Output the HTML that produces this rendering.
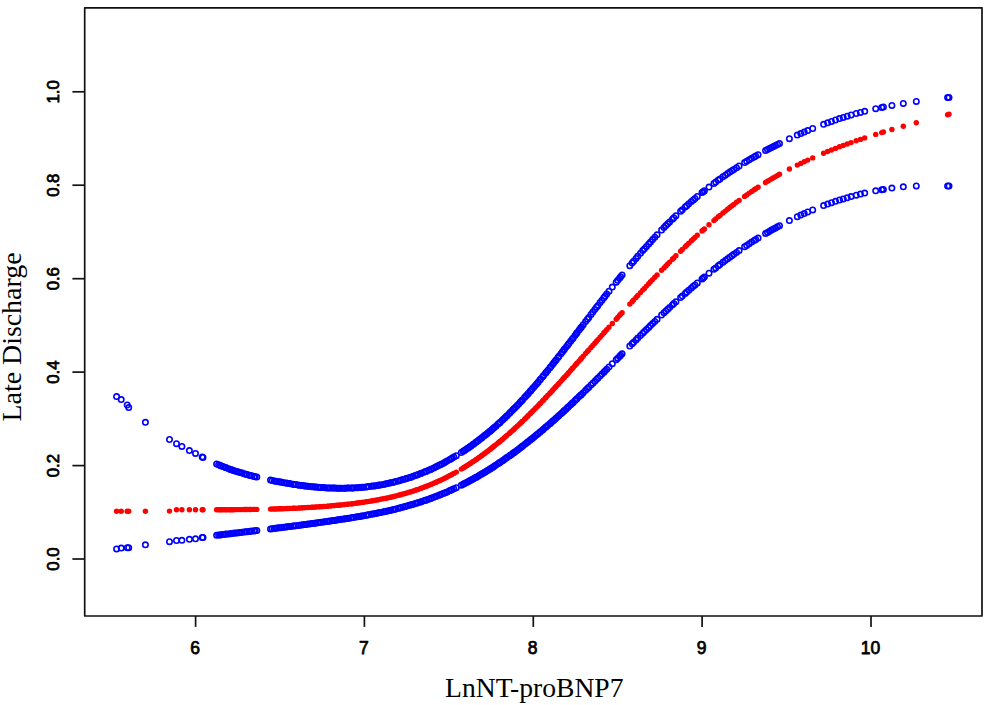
<!DOCTYPE html>
<html><head><meta charset="utf-8"><style>
html,body{margin:0;padding:0;background:#fff;width:992px;height:705px;overflow:hidden}
svg{display:block}
</style></head><body>
<svg width="992" height="705" viewBox="0 0 992 705">
<rect x="0" y="0" width="992" height="705" fill="#fff"/>
<g fill="none" stroke="#0000ff" stroke-width="1.6"><circle cx="116.6" cy="396.6" r="2.7"/><circle cx="116.6" cy="548.9" r="2.7"/><circle cx="121.2" cy="399.6" r="2.7"/><circle cx="121.2" cy="548.1" r="2.7"/><circle cx="127.2" cy="405.0" r="2.7"/><circle cx="127.2" cy="547.7" r="2.7"/><circle cx="128.7" cy="407.6" r="2.7"/><circle cx="128.7" cy="547.7" r="2.7"/><circle cx="145.4" cy="422.3" r="2.7"/><circle cx="145.4" cy="544.8" r="2.7"/><circle cx="169.5" cy="439.5" r="2.7"/><circle cx="169.5" cy="541.7" r="2.7"/><circle cx="176.5" cy="443.7" r="2.7"/><circle cx="176.5" cy="540.5" r="2.7"/><circle cx="181.9" cy="446.4" r="2.7"/><circle cx="181.9" cy="540.3" r="2.7"/><circle cx="189.4" cy="450.6" r="2.7"/><circle cx="189.4" cy="539.3" r="2.7"/><circle cx="195.5" cy="453.4" r="2.7"/><circle cx="195.5" cy="538.8" r="2.7"/><circle cx="202.2" cy="456.9" r="2.7"/><circle cx="202.2" cy="537.5" r="2.7"/><circle cx="203.0" cy="457.4" r="2.7"/><circle cx="203.0" cy="537.5" r="2.7"/><circle cx="216.6" cy="464.0" r="2.7"/><circle cx="218.6" cy="464.8" r="2.7"/><circle cx="220.2" cy="465.4" r="2.7"/><circle cx="221.3" cy="465.9" r="2.7"/><circle cx="223.1" cy="466.6" r="2.7"/><circle cx="225.4" cy="467.5" r="2.7"/><circle cx="226.2" cy="467.8" r="2.7"/><circle cx="228.7" cy="468.8" r="2.7"/><circle cx="230.4" cy="469.4" r="2.7"/><circle cx="231.8" cy="469.8" r="2.7"/><circle cx="233.3" cy="470.4" r="2.7"/><circle cx="235.0" cy="470.9" r="2.7"/><circle cx="236.7" cy="471.5" r="2.7"/><circle cx="238.5" cy="472.1" r="2.7"/><circle cx="240.3" cy="472.6" r="2.7"/><circle cx="242.1" cy="473.1" r="2.7"/><circle cx="244.2" cy="473.7" r="2.7"/><circle cx="245.7" cy="474.2" r="2.7"/><circle cx="247.2" cy="474.6" r="2.7"/><circle cx="249.3" cy="475.2" r="2.7"/><circle cx="250.2" cy="475.4" r="2.7"/><circle cx="251.9" cy="475.8" r="2.7"/><circle cx="254.0" cy="476.4" r="2.7"/><circle cx="255.1" cy="476.7" r="2.7"/><circle cx="256.8" cy="477.1" r="2.7"/><circle cx="270.5" cy="480.1" r="2.7"/><circle cx="272.2" cy="480.5" r="2.7"/><circle cx="274.3" cy="480.9" r="2.7"/><circle cx="275.7" cy="481.2" r="2.7"/><circle cx="277.3" cy="481.5" r="2.7"/><circle cx="279.0" cy="481.8" r="2.7"/><circle cx="280.4" cy="482.1" r="2.7"/><circle cx="281.9" cy="482.3" r="2.7"/><circle cx="283.8" cy="482.7" r="2.7"/><circle cx="286.0" cy="483.1" r="2.7"/><circle cx="287.2" cy="483.3" r="2.7"/><circle cx="289.1" cy="483.6" r="2.7"/><circle cx="290.4" cy="483.8" r="2.7"/><circle cx="292.9" cy="484.2" r="2.7"/><circle cx="294.0" cy="484.4" r="2.7"/><circle cx="295.8" cy="484.6" r="2.7"/><circle cx="298.1" cy="485.0" r="2.7"/><circle cx="299.4" cy="485.2" r="2.7"/><circle cx="301.4" cy="485.4" r="2.7"/><circle cx="302.9" cy="485.6" r="2.7"/><circle cx="304.7" cy="485.9" r="2.7"/><circle cx="305.8" cy="486.0" r="2.7"/><circle cx="307.9" cy="486.2" r="2.7"/><circle cx="309.6" cy="486.4" r="2.7"/><circle cx="311.7" cy="486.7" r="2.7"/><circle cx="312.9" cy="486.8" r="2.7"/><circle cx="314.8" cy="487.0" r="2.7"/><circle cx="316.0" cy="487.1" r="2.7"/><circle cx="318.0" cy="487.2" r="2.7"/><circle cx="319.6" cy="487.4" r="2.7"/><circle cx="321.2" cy="487.5" r="2.7"/><circle cx="323.5" cy="487.6" r="2.7"/><circle cx="324.8" cy="487.7" r="2.7"/><circle cx="327.1" cy="487.9" r="2.7"/><circle cx="328.4" cy="487.9" r="2.7"/><circle cx="330.1" cy="488.0" r="2.7"/><circle cx="331.8" cy="488.1" r="2.7"/><circle cx="333.6" cy="488.1" r="2.7"/><circle cx="334.8" cy="488.1" r="2.7"/><circle cx="336.7" cy="488.2" r="2.7"/><circle cx="338.2" cy="488.2" r="2.7"/><circle cx="340.1" cy="488.2" r="2.7"/><circle cx="341.5" cy="488.2" r="2.7"/><circle cx="344.1" cy="488.2" r="2.7"/><circle cx="345.0" cy="488.2" r="2.7"/><circle cx="347.2" cy="488.1" r="2.7"/><circle cx="348.5" cy="488.1" r="2.7"/><circle cx="350.8" cy="488.0" r="2.7"/><circle cx="352.3" cy="488.0" r="2.7"/><circle cx="353.4" cy="487.9" r="2.7"/><circle cx="355.8" cy="487.8" r="2.7"/><circle cx="357.6" cy="487.7" r="2.7"/><circle cx="359.3" cy="487.5" r="2.7"/><circle cx="360.7" cy="487.4" r="2.7"/><circle cx="361.9" cy="487.3" r="2.7"/><circle cx="363.7" cy="487.2" r="2.7"/><circle cx="366.1" cy="486.9" r="2.7"/><circle cx="367.5" cy="486.8" r="2.7"/><circle cx="368.8" cy="486.6" r="2.7"/><circle cx="371.2" cy="486.3" r="2.7"/><circle cx="372.6" cy="486.1" r="2.7"/><circle cx="374.3" cy="485.9" r="2.7"/><circle cx="375.8" cy="485.7" r="2.7"/><circle cx="377.5" cy="485.4" r="2.7"/><circle cx="379.0" cy="485.1" r="2.7"/><circle cx="380.5" cy="484.9" r="2.7"/><circle cx="383.1" cy="484.4" r="2.7"/><circle cx="384.4" cy="484.2" r="2.7"/><circle cx="386.1" cy="483.8" r="2.7"/><circle cx="387.6" cy="483.5" r="2.7"/><circle cx="389.8" cy="483.1" r="2.7"/><circle cx="390.7" cy="482.8" r="2.7"/><circle cx="392.8" cy="482.4" r="2.7"/><circle cx="394.1" cy="482.0" r="2.7"/><circle cx="395.9" cy="481.6" r="2.7"/><circle cx="398.5" cy="480.9" r="2.7"/><circle cx="399.9" cy="480.5" r="2.7"/><circle cx="401.3" cy="480.1" r="2.7"/><circle cx="403.1" cy="479.6" r="2.7"/><circle cx="405.2" cy="479.0" r="2.7"/><circle cx="406.3" cy="478.6" r="2.7"/><circle cx="408.3" cy="478.0" r="2.7"/><circle cx="410.1" cy="477.4" r="2.7"/><circle cx="411.5" cy="477.0" r="2.7"/><circle cx="413.3" cy="476.3" r="2.7"/><circle cx="415.3" cy="475.6" r="2.7"/><circle cx="417.1" cy="474.9" r="2.7"/><circle cx="418.1" cy="474.6" r="2.7"/><circle cx="420.5" cy="473.6" r="2.7"/><circle cx="421.3" cy="473.3" r="2.7"/><circle cx="423.8" cy="472.3" r="2.7"/><circle cx="425.5" cy="471.6" r="2.7"/><circle cx="426.5" cy="471.2" r="2.7"/><circle cx="428.5" cy="470.3" r="2.7"/><circle cx="430.6" cy="469.4" r="2.7"/><circle cx="431.5" cy="469.0" r="2.7"/><circle cx="433.8" cy="467.9" r="2.7"/><circle cx="435.7" cy="467.0" r="2.7"/><circle cx="437.1" cy="466.3" r="2.7"/><circle cx="439.0" cy="465.3" r="2.7"/><circle cx="440.2" cy="464.7" r="2.7"/><circle cx="441.9" cy="463.9" r="2.7"/><circle cx="443.8" cy="462.9" r="2.7"/><circle cx="445.3" cy="462.1" r="2.7"/><circle cx="447.1" cy="461.0" r="2.7"/><circle cx="449.4" cy="459.7" r="2.7"/><circle cx="450.8" cy="459.0" r="2.7"/><circle cx="452.2" cy="458.1" r="2.7"/><circle cx="453.9" cy="457.1" r="2.7"/><circle cx="456.3" cy="455.7" r="2.7"/><circle cx="461.3" cy="452.5" r="2.7"/><circle cx="463.1" cy="451.3" r="2.7"/><circle cx="464.1" cy="450.7" r="2.7"/><circle cx="465.5" cy="449.7" r="2.7"/><circle cx="467.2" cy="448.6" r="2.7"/><circle cx="468.5" cy="447.7" r="2.7"/><circle cx="469.8" cy="446.8" r="2.7"/><circle cx="471.0" cy="445.9" r="2.7"/><circle cx="472.8" cy="444.6" r="2.7"/><circle cx="473.8" cy="443.9" r="2.7"/><circle cx="475.6" cy="442.5" r="2.7"/><circle cx="476.4" cy="442.0" r="2.7"/><circle cx="478.0" cy="440.7" r="2.7"/><circle cx="479.5" cy="439.6" r="2.7"/><circle cx="481.3" cy="438.2" r="2.7"/><circle cx="482.1" cy="437.6" r="2.7"/><circle cx="483.9" cy="436.1" r="2.7"/><circle cx="485.2" cy="435.1" r="2.7"/><circle cx="486.7" cy="433.9" r="2.7"/><circle cx="488.0" cy="432.8" r="2.7"/><circle cx="489.7" cy="431.4" r="2.7"/><circle cx="490.6" cy="430.7" r="2.7"/><circle cx="492.0" cy="429.4" r="2.7"/><circle cx="493.3" cy="428.3" r="2.7"/><circle cx="494.5" cy="427.2" r="2.7"/><circle cx="496.1" cy="425.9" r="2.7"/><circle cx="498.0" cy="424.1" r="2.7"/><circle cx="499.4" cy="422.9" r="2.7"/><circle cx="500.2" cy="422.2" r="2.7"/><circle cx="502.0" cy="420.5" r="2.7"/><circle cx="503.3" cy="419.3" r="2.7"/><circle cx="504.8" cy="417.9" r="2.7"/><circle cx="506.2" cy="416.5" r="2.7"/><circle cx="507.3" cy="415.4" r="2.7"/><circle cx="509.3" cy="413.5" r="2.7"/><circle cx="510.3" cy="412.5" r="2.7"/><circle cx="511.8" cy="411.0" r="2.7"/><circle cx="513.2" cy="409.6" r="2.7"/><circle cx="514.2" cy="408.5" r="2.7"/><circle cx="515.5" cy="407.2" r="2.7"/><circle cx="517.2" cy="405.4" r="2.7"/><circle cx="518.9" cy="403.7" r="2.7"/><circle cx="520.4" cy="402.1" r="2.7"/><circle cx="521.7" cy="400.7" r="2.7"/><circle cx="522.6" cy="399.7" r="2.7"/><circle cx="524.6" cy="397.5" r="2.7"/><circle cx="525.9" cy="396.1" r="2.7"/><circle cx="527.4" cy="394.4" r="2.7"/><circle cx="528.5" cy="393.2" r="2.7"/><circle cx="530.2" cy="391.2" r="2.7"/><circle cx="530.9" cy="390.4" r="2.7"/><circle cx="532.3" cy="388.8" r="2.7"/><circle cx="533.7" cy="387.2" r="2.7"/><circle cx="535.3" cy="385.4" r="2.7"/><circle cx="536.7" cy="383.7" r="2.7"/><circle cx="538.1" cy="382.2" r="2.7"/><circle cx="539.8" cy="380.1" r="2.7"/><circle cx="540.7" cy="379.0" r="2.7"/><circle cx="542.6" cy="376.7" r="2.7"/><circle cx="543.6" cy="375.4" r="2.7"/><circle cx="545.4" cy="373.2" r="2.7"/><circle cx="546.3" cy="372.2" r="2.7"/><circle cx="547.9" cy="370.2" r="2.7"/><circle cx="549.9" cy="367.8" r="2.7"/><circle cx="550.9" cy="366.5" r="2.7"/><circle cx="552.5" cy="364.4" r="2.7"/><circle cx="553.8" cy="362.8" r="2.7"/><circle cx="555.2" cy="361.1" r="2.7"/><circle cx="556.3" cy="359.8" r="2.7"/><circle cx="558.0" cy="357.6" r="2.7"/><circle cx="558.9" cy="356.3" r="2.7"/><circle cx="560.9" cy="353.8" r="2.7"/><circle cx="562.5" cy="351.8" r="2.7"/><circle cx="563.8" cy="350.1" r="2.7"/><circle cx="564.5" cy="349.1" r="2.7"/><circle cx="566.2" cy="347.0" r="2.7"/><circle cx="567.6" cy="345.2" r="2.7"/><circle cx="568.8" cy="343.6" r="2.7"/><circle cx="570.6" cy="341.2" r="2.7"/><circle cx="572.1" cy="339.2" r="2.7"/><circle cx="573.2" cy="337.9" r="2.7"/><circle cx="575.0" cy="335.5" r="2.7"/><circle cx="576.3" cy="333.7" r="2.7"/><circle cx="577.2" cy="332.6" r="2.7"/><circle cx="579.1" cy="330.1" r="2.7"/><circle cx="580.6" cy="328.1" r="2.7"/><circle cx="581.5" cy="327.0" r="2.7"/><circle cx="583.2" cy="324.7" r="2.7"/><circle cx="585.6" cy="321.5" r="2.7"/><circle cx="587.4" cy="319.2" r="2.7"/><circle cx="588.8" cy="317.4" r="2.7"/><circle cx="591.0" cy="314.4" r="2.7"/><circle cx="592.8" cy="312.1" r="2.7"/><circle cx="594.8" cy="309.5" r="2.7"/><circle cx="596.5" cy="307.2" r="2.7"/><circle cx="598.0" cy="305.4" r="2.7"/><circle cx="600.1" cy="302.6" r="2.7"/><circle cx="602.0" cy="300.2" r="2.7"/><circle cx="603.8" cy="297.8" r="2.7"/><circle cx="605.0" cy="296.3" r="2.7"/><circle cx="606.7" cy="294.1" r="2.7"/><circle cx="609.0" cy="291.2" r="2.7"/><circle cx="612.3" cy="287.1" r="2.7"/><circle cx="616.2" cy="282.2" r="2.7"/><circle cx="617.7" cy="280.3" r="2.7"/><circle cx="619.5" cy="278.2" r="2.7"/><circle cx="620.6" cy="276.7" r="2.7"/><circle cx="622.1" cy="275.0" r="2.7"/><circle cx="629.8" cy="265.7" r="2.7"/><circle cx="632.1" cy="263.0" r="2.7"/><circle cx="633.6" cy="261.2" r="2.7"/><circle cx="636.0" cy="258.4" r="2.7"/><circle cx="637.8" cy="256.2" r="2.7"/><circle cx="640.5" cy="253.2" r="2.7"/><circle cx="642.7" cy="250.6" r="2.7"/><circle cx="644.4" cy="248.8" r="2.7"/><circle cx="646.5" cy="246.4" r="2.7"/><circle cx="648.7" cy="243.9" r="2.7"/><circle cx="650.5" cy="241.9" r="2.7"/><circle cx="652.6" cy="239.6" r="2.7"/><circle cx="654.8" cy="237.2" r="2.7"/><circle cx="657.1" cy="234.8" r="2.7"/><circle cx="661.6" cy="230.1" r="2.7"/><circle cx="664.0" cy="227.6" r="2.7"/><circle cx="665.9" cy="225.6" r="2.7"/><circle cx="667.7" cy="223.8" r="2.7"/><circle cx="669.6" cy="221.9" r="2.7"/><circle cx="672.4" cy="219.2" r="2.7"/><circle cx="673.8" cy="217.7" r="2.7"/><circle cx="675.9" cy="215.7" r="2.7"/><circle cx="680.6" cy="211.3" r="2.7"/><circle cx="682.3" cy="209.7" r="2.7"/><circle cx="685.2" cy="207.0" r="2.7"/><circle cx="686.7" cy="205.7" r="2.7"/><circle cx="688.8" cy="203.8" r="2.7"/><circle cx="691.4" cy="201.5" r="2.7"/><circle cx="693.3" cy="199.9" r="2.7"/><circle cx="695.0" cy="198.5" r="2.7"/><circle cx="697.3" cy="196.5" r="2.7"/><circle cx="702.0" cy="192.6" r="2.7"/><circle cx="703.2" cy="191.7" r="2.7"/><circle cx="704.4" cy="190.7" r="2.7"/><circle cx="709.0" cy="187.1" r="2.7"/><circle cx="713.9" cy="183.4" r="2.7"/><circle cx="715.7" cy="182.1" r="2.7"/><circle cx="718.3" cy="180.1" r="2.7"/><circle cx="720.0" cy="178.9" r="2.7"/><circle cx="722.9" cy="176.8" r="2.7"/><circle cx="725.3" cy="175.2" r="2.7"/><circle cx="727.6" cy="173.6" r="2.7"/><circle cx="729.8" cy="172.1" r="2.7"/><circle cx="731.8" cy="170.8" r="2.7"/><circle cx="733.8" cy="169.5" r="2.7"/><circle cx="736.5" cy="167.7" r="2.7"/><circle cx="739.1" cy="166.0" r="2.7"/><circle cx="744.6" cy="162.6" r="2.7"/><circle cx="746.7" cy="161.3" r="2.7"/><circle cx="749.2" cy="159.8" r="2.7"/><circle cx="751.7" cy="158.3" r="2.7"/><circle cx="754.2" cy="156.9" r="2.7"/><circle cx="755.7" cy="156.0" r="2.7"/><circle cx="758.1" cy="154.7" r="2.7"/><circle cx="765.5" cy="150.6" r="2.7"/><circle cx="767.5" cy="149.6" r="2.7"/><circle cx="769.5" cy="148.5" r="2.7"/><circle cx="771.5" cy="147.5" r="2.7"/><circle cx="773.5" cy="146.5" r="2.7"/><circle cx="775.5" cy="145.5" r="2.7"/><circle cx="777.5" cy="144.4" r="2.7"/><circle cx="779.5" cy="143.5" r="2.7"/><circle cx="789.4" cy="138.7" r="2.7"/><circle cx="797.3" cy="135.1" r="2.7"/><circle cx="800.8" cy="133.6" r="2.7"/><circle cx="804.2" cy="132.1" r="2.7"/><circle cx="807.7" cy="130.6" r="2.7"/><circle cx="812.7" cy="128.5" r="2.7"/><circle cx="823.6" cy="124.3" r="2.7"/><circle cx="827.6" cy="122.8" r="2.7"/><circle cx="831.5" cy="121.4" r="2.7"/><circle cx="835.5" cy="120.0" r="2.7"/><circle cx="839.5" cy="118.6" r="2.7"/><circle cx="843.2" cy="117.4" r="2.7"/><circle cx="847.2" cy="116.2" r="2.7"/><circle cx="851.1" cy="115.0" r="2.7"/><circle cx="856.2" cy="113.5" r="2.7"/><circle cx="860.4" cy="112.4" r="2.7"/><circle cx="864.7" cy="111.3" r="2.7"/><circle cx="875.7" cy="108.7" r="2.7"/><circle cx="881.7" cy="107.4" r="2.7"/><circle cx="883.4" cy="107.0" r="2.7"/><circle cx="891.9" cy="105.4" r="2.7"/><circle cx="903.3" cy="103.4" r="2.7"/><circle cx="916.3" cy="101.4" r="2.7"/><circle cx="947.6" cy="97.6" r="2.7"/><circle cx="949.0" cy="97.4" r="2.7"/><circle cx="216.6" cy="535.3" r="2.7"/><circle cx="218.6" cy="535.1" r="2.7"/><circle cx="220.2" cy="534.9" r="2.7"/><circle cx="221.3" cy="534.7" r="2.7"/><circle cx="223.1" cy="534.5" r="2.7"/><circle cx="225.4" cy="534.2" r="2.7"/><circle cx="226.2" cy="534.1" r="2.7"/><circle cx="228.7" cy="533.9" r="2.7"/><circle cx="230.4" cy="533.7" r="2.7"/><circle cx="231.8" cy="533.5" r="2.7"/><circle cx="233.3" cy="533.3" r="2.7"/><circle cx="235.0" cy="533.1" r="2.7"/><circle cx="236.7" cy="532.9" r="2.7"/><circle cx="238.5" cy="532.7" r="2.7"/><circle cx="240.3" cy="532.5" r="2.7"/><circle cx="242.1" cy="532.3" r="2.7"/><circle cx="244.2" cy="532.0" r="2.7"/><circle cx="245.7" cy="531.8" r="2.7"/><circle cx="247.2" cy="531.7" r="2.7"/><circle cx="249.3" cy="531.4" r="2.7"/><circle cx="250.2" cy="531.3" r="2.7"/><circle cx="251.9" cy="531.1" r="2.7"/><circle cx="254.0" cy="530.9" r="2.7"/><circle cx="255.1" cy="530.7" r="2.7"/><circle cx="256.8" cy="530.5" r="2.7"/><circle cx="270.5" cy="528.9" r="2.7"/><circle cx="272.2" cy="528.7" r="2.7"/><circle cx="274.3" cy="528.4" r="2.7"/><circle cx="275.7" cy="528.2" r="2.7"/><circle cx="277.3" cy="528.0" r="2.7"/><circle cx="279.0" cy="527.8" r="2.7"/><circle cx="280.4" cy="527.7" r="2.7"/><circle cx="281.9" cy="527.5" r="2.7"/><circle cx="283.8" cy="527.2" r="2.7"/><circle cx="286.0" cy="527.0" r="2.7"/><circle cx="287.2" cy="526.8" r="2.7"/><circle cx="289.1" cy="526.6" r="2.7"/><circle cx="290.4" cy="526.4" r="2.7"/><circle cx="292.9" cy="526.1" r="2.7"/><circle cx="294.0" cy="526.0" r="2.7"/><circle cx="295.8" cy="525.7" r="2.7"/><circle cx="298.1" cy="525.4" r="2.7"/><circle cx="299.4" cy="525.3" r="2.7"/><circle cx="301.4" cy="525.0" r="2.7"/><circle cx="302.9" cy="524.8" r="2.7"/><circle cx="304.7" cy="524.6" r="2.7"/><circle cx="305.8" cy="524.4" r="2.7"/><circle cx="307.9" cy="524.1" r="2.7"/><circle cx="309.6" cy="523.9" r="2.7"/><circle cx="311.7" cy="523.6" r="2.7"/><circle cx="312.9" cy="523.5" r="2.7"/><circle cx="314.8" cy="523.2" r="2.7"/><circle cx="316.0" cy="523.0" r="2.7"/><circle cx="318.0" cy="522.8" r="2.7"/><circle cx="319.6" cy="522.5" r="2.7"/><circle cx="321.2" cy="522.3" r="2.7"/><circle cx="323.5" cy="522.0" r="2.7"/><circle cx="324.8" cy="521.8" r="2.7"/><circle cx="327.1" cy="521.5" r="2.7"/><circle cx="328.4" cy="521.3" r="2.7"/><circle cx="330.1" cy="521.0" r="2.7"/><circle cx="331.8" cy="520.8" r="2.7"/><circle cx="333.6" cy="520.5" r="2.7"/><circle cx="334.8" cy="520.4" r="2.7"/><circle cx="336.7" cy="520.1" r="2.7"/><circle cx="338.2" cy="519.8" r="2.7"/><circle cx="340.1" cy="519.6" r="2.7"/><circle cx="341.5" cy="519.3" r="2.7"/><circle cx="344.1" cy="518.9" r="2.7"/><circle cx="345.0" cy="518.8" r="2.7"/><circle cx="347.2" cy="518.5" r="2.7"/><circle cx="348.5" cy="518.3" r="2.7"/><circle cx="350.8" cy="517.9" r="2.7"/><circle cx="352.3" cy="517.6" r="2.7"/><circle cx="353.4" cy="517.5" r="2.7"/><circle cx="355.8" cy="517.1" r="2.7"/><circle cx="357.6" cy="516.7" r="2.7"/><circle cx="359.3" cy="516.5" r="2.7"/><circle cx="360.7" cy="516.2" r="2.7"/><circle cx="361.9" cy="516.0" r="2.7"/><circle cx="363.7" cy="515.7" r="2.7"/><circle cx="366.1" cy="515.3" r="2.7"/><circle cx="367.5" cy="515.0" r="2.7"/><circle cx="368.8" cy="514.8" r="2.7"/><circle cx="371.2" cy="514.3" r="2.7"/><circle cx="372.6" cy="514.0" r="2.7"/><circle cx="374.3" cy="513.7" r="2.7"/><circle cx="375.8" cy="513.4" r="2.7"/><circle cx="377.5" cy="513.1" r="2.7"/><circle cx="379.0" cy="512.7" r="2.7"/><circle cx="380.5" cy="512.4" r="2.7"/><circle cx="383.1" cy="511.9" r="2.7"/><circle cx="384.4" cy="511.6" r="2.7"/><circle cx="386.1" cy="511.2" r="2.7"/><circle cx="387.6" cy="510.9" r="2.7"/><circle cx="389.8" cy="510.4" r="2.7"/><circle cx="390.7" cy="510.2" r="2.7"/><circle cx="392.8" cy="509.7" r="2.7"/><circle cx="394.1" cy="509.4" r="2.7"/><circle cx="395.9" cy="508.9" r="2.7"/><circle cx="398.5" cy="508.3" r="2.7"/><circle cx="399.9" cy="507.9" r="2.7"/><circle cx="401.3" cy="507.5" r="2.7"/><circle cx="403.1" cy="507.1" r="2.7"/><circle cx="405.2" cy="506.5" r="2.7"/><circle cx="406.3" cy="506.2" r="2.7"/><circle cx="408.3" cy="505.6" r="2.7"/><circle cx="410.1" cy="505.1" r="2.7"/><circle cx="411.5" cy="504.7" r="2.7"/><circle cx="413.3" cy="504.2" r="2.7"/><circle cx="415.3" cy="503.6" r="2.7"/><circle cx="417.1" cy="503.0" r="2.7"/><circle cx="418.1" cy="502.7" r="2.7"/><circle cx="420.5" cy="501.9" r="2.7"/><circle cx="421.3" cy="501.7" r="2.7"/><circle cx="423.8" cy="500.8" r="2.7"/><circle cx="425.5" cy="500.2" r="2.7"/><circle cx="426.5" cy="499.9" r="2.7"/><circle cx="428.5" cy="499.2" r="2.7"/><circle cx="430.6" cy="498.4" r="2.7"/><circle cx="431.5" cy="498.1" r="2.7"/><circle cx="433.8" cy="497.3" r="2.7"/><circle cx="435.7" cy="496.5" r="2.7"/><circle cx="437.1" cy="496.0" r="2.7"/><circle cx="439.0" cy="495.2" r="2.7"/><circle cx="440.2" cy="494.8" r="2.7"/><circle cx="441.9" cy="494.1" r="2.7"/><circle cx="443.8" cy="493.3" r="2.7"/><circle cx="445.3" cy="492.7" r="2.7"/><circle cx="447.1" cy="491.9" r="2.7"/><circle cx="449.4" cy="490.8" r="2.7"/><circle cx="450.8" cy="490.3" r="2.7"/><circle cx="452.2" cy="489.6" r="2.7"/><circle cx="453.9" cy="488.8" r="2.7"/><circle cx="456.3" cy="487.7" r="2.7"/><circle cx="461.3" cy="485.2" r="2.7"/><circle cx="463.1" cy="484.3" r="2.7"/><circle cx="464.1" cy="483.8" r="2.7"/><circle cx="465.5" cy="483.1" r="2.7"/><circle cx="467.2" cy="482.2" r="2.7"/><circle cx="468.5" cy="481.5" r="2.7"/><circle cx="469.8" cy="480.8" r="2.7"/><circle cx="471.0" cy="480.1" r="2.7"/><circle cx="472.8" cy="479.2" r="2.7"/><circle cx="473.8" cy="478.6" r="2.7"/><circle cx="475.6" cy="477.6" r="2.7"/><circle cx="476.4" cy="477.2" r="2.7"/><circle cx="478.0" cy="476.2" r="2.7"/><circle cx="479.5" cy="475.3" r="2.7"/><circle cx="481.3" cy="474.3" r="2.7"/><circle cx="482.1" cy="473.8" r="2.7"/><circle cx="483.9" cy="472.7" r="2.7"/><circle cx="485.2" cy="471.9" r="2.7"/><circle cx="486.7" cy="471.0" r="2.7"/><circle cx="488.0" cy="470.2" r="2.7"/><circle cx="489.7" cy="469.2" r="2.7"/><circle cx="490.6" cy="468.6" r="2.7"/><circle cx="492.0" cy="467.7" r="2.7"/><circle cx="493.3" cy="466.9" r="2.7"/><circle cx="494.5" cy="466.0" r="2.7"/><circle cx="496.1" cy="465.0" r="2.7"/><circle cx="498.0" cy="463.7" r="2.7"/><circle cx="499.4" cy="462.8" r="2.7"/><circle cx="500.2" cy="462.3" r="2.7"/><circle cx="502.0" cy="461.1" r="2.7"/><circle cx="503.3" cy="460.2" r="2.7"/><circle cx="504.8" cy="459.1" r="2.7"/><circle cx="506.2" cy="458.1" r="2.7"/><circle cx="507.3" cy="457.3" r="2.7"/><circle cx="509.3" cy="456.0" r="2.7"/><circle cx="510.3" cy="455.3" r="2.7"/><circle cx="511.8" cy="454.2" r="2.7"/><circle cx="513.2" cy="453.1" r="2.7"/><circle cx="514.2" cy="452.4" r="2.7"/><circle cx="515.5" cy="451.4" r="2.7"/><circle cx="517.2" cy="450.2" r="2.7"/><circle cx="518.9" cy="448.9" r="2.7"/><circle cx="520.4" cy="447.8" r="2.7"/><circle cx="521.7" cy="446.8" r="2.7"/><circle cx="522.6" cy="446.1" r="2.7"/><circle cx="524.6" cy="444.5" r="2.7"/><circle cx="525.9" cy="443.5" r="2.7"/><circle cx="527.4" cy="442.3" r="2.7"/><circle cx="528.5" cy="441.5" r="2.7"/><circle cx="530.2" cy="440.1" r="2.7"/><circle cx="530.9" cy="439.5" r="2.7"/><circle cx="532.3" cy="438.4" r="2.7"/><circle cx="533.7" cy="437.3" r="2.7"/><circle cx="535.3" cy="436.0" r="2.7"/><circle cx="536.7" cy="434.8" r="2.7"/><circle cx="538.1" cy="433.7" r="2.7"/><circle cx="539.8" cy="432.3" r="2.7"/><circle cx="540.7" cy="431.5" r="2.7"/><circle cx="542.6" cy="429.9" r="2.7"/><circle cx="543.6" cy="429.0" r="2.7"/><circle cx="545.4" cy="427.5" r="2.7"/><circle cx="546.3" cy="426.7" r="2.7"/><circle cx="547.9" cy="425.3" r="2.7"/><circle cx="549.9" cy="423.7" r="2.7"/><circle cx="550.9" cy="422.7" r="2.7"/><circle cx="552.5" cy="421.3" r="2.7"/><circle cx="553.8" cy="420.2" r="2.7"/><circle cx="555.2" cy="419.0" r="2.7"/><circle cx="556.3" cy="418.0" r="2.7"/><circle cx="558.0" cy="416.5" r="2.7"/><circle cx="558.9" cy="415.6" r="2.7"/><circle cx="560.9" cy="413.8" r="2.7"/><circle cx="562.5" cy="412.4" r="2.7"/><circle cx="563.8" cy="411.1" r="2.7"/><circle cx="564.5" cy="410.4" r="2.7"/><circle cx="566.2" cy="408.9" r="2.7"/><circle cx="567.6" cy="407.6" r="2.7"/><circle cx="568.8" cy="406.5" r="2.7"/><circle cx="570.6" cy="404.8" r="2.7"/><circle cx="572.1" cy="403.3" r="2.7"/><circle cx="573.2" cy="402.4" r="2.7"/><circle cx="575.0" cy="400.6" r="2.7"/><circle cx="576.3" cy="399.3" r="2.7"/><circle cx="577.2" cy="398.5" r="2.7"/><circle cx="579.1" cy="396.6" r="2.7"/><circle cx="580.6" cy="395.2" r="2.7"/><circle cx="581.5" cy="394.4" r="2.7"/><circle cx="583.2" cy="392.7" r="2.7"/><circle cx="585.6" cy="390.3" r="2.7"/><circle cx="587.4" cy="388.6" r="2.7"/><circle cx="588.8" cy="387.2" r="2.7"/><circle cx="591.0" cy="385.0" r="2.7"/><circle cx="592.8" cy="383.2" r="2.7"/><circle cx="594.8" cy="381.3" r="2.7"/><circle cx="596.5" cy="379.5" r="2.7"/><circle cx="598.0" cy="378.1" r="2.7"/><circle cx="600.1" cy="376.0" r="2.7"/><circle cx="602.0" cy="374.0" r="2.7"/><circle cx="603.8" cy="372.2" r="2.7"/><circle cx="605.0" cy="371.0" r="2.7"/><circle cx="606.7" cy="369.3" r="2.7"/><circle cx="609.0" cy="367.0" r="2.7"/><circle cx="612.3" cy="363.7" r="2.7"/><circle cx="616.2" cy="359.7" r="2.7"/><circle cx="617.7" cy="358.2" r="2.7"/><circle cx="619.5" cy="356.4" r="2.7"/><circle cx="620.6" cy="355.3" r="2.7"/><circle cx="622.1" cy="353.8" r="2.7"/><circle cx="629.8" cy="346.1" r="2.7"/><circle cx="632.1" cy="343.8" r="2.7"/><circle cx="633.6" cy="342.3" r="2.7"/><circle cx="636.0" cy="339.9" r="2.7"/><circle cx="637.8" cy="338.1" r="2.7"/><circle cx="640.5" cy="335.5" r="2.7"/><circle cx="642.7" cy="333.2" r="2.7"/><circle cx="644.4" cy="331.6" r="2.7"/><circle cx="646.5" cy="329.6" r="2.7"/><circle cx="648.7" cy="327.4" r="2.7"/><circle cx="650.5" cy="325.6" r="2.7"/><circle cx="652.6" cy="323.6" r="2.7"/><circle cx="654.8" cy="321.5" r="2.7"/><circle cx="657.1" cy="319.3" r="2.7"/><circle cx="661.6" cy="315.0" r="2.7"/><circle cx="664.0" cy="312.8" r="2.7"/><circle cx="665.9" cy="311.0" r="2.7"/><circle cx="667.7" cy="309.3" r="2.7"/><circle cx="669.6" cy="307.5" r="2.7"/><circle cx="672.4" cy="305.0" r="2.7"/><circle cx="673.8" cy="303.6" r="2.7"/><circle cx="675.9" cy="301.7" r="2.7"/><circle cx="680.6" cy="297.5" r="2.7"/><circle cx="682.3" cy="296.0" r="2.7"/><circle cx="685.2" cy="293.4" r="2.7"/><circle cx="686.7" cy="292.1" r="2.7"/><circle cx="688.8" cy="290.2" r="2.7"/><circle cx="691.4" cy="287.9" r="2.7"/><circle cx="693.3" cy="286.3" r="2.7"/><circle cx="695.0" cy="284.9" r="2.7"/><circle cx="697.3" cy="282.9" r="2.7"/><circle cx="702.0" cy="278.9" r="2.7"/><circle cx="703.2" cy="278.0" r="2.7"/><circle cx="704.4" cy="277.0" r="2.7"/><circle cx="709.0" cy="273.2" r="2.7"/><circle cx="713.9" cy="269.3" r="2.7"/><circle cx="715.7" cy="267.9" r="2.7"/><circle cx="718.3" cy="265.8" r="2.7"/><circle cx="720.0" cy="264.5" r="2.7"/><circle cx="722.9" cy="262.3" r="2.7"/><circle cx="725.3" cy="260.5" r="2.7"/><circle cx="727.6" cy="258.8" r="2.7"/><circle cx="729.8" cy="257.2" r="2.7"/><circle cx="731.8" cy="255.8" r="2.7"/><circle cx="733.8" cy="254.3" r="2.7"/><circle cx="736.5" cy="252.4" r="2.7"/><circle cx="739.1" cy="250.6" r="2.7"/><circle cx="744.6" cy="246.8" r="2.7"/><circle cx="746.7" cy="245.5" r="2.7"/><circle cx="749.2" cy="243.8" r="2.7"/><circle cx="751.7" cy="242.1" r="2.7"/><circle cx="754.2" cy="240.6" r="2.7"/><circle cx="755.7" cy="239.6" r="2.7"/><circle cx="758.1" cy="238.1" r="2.7"/><circle cx="765.5" cy="233.6" r="2.7"/><circle cx="767.5" cy="232.5" r="2.7"/><circle cx="769.5" cy="231.3" r="2.7"/><circle cx="771.5" cy="230.1" r="2.7"/><circle cx="773.5" cy="229.0" r="2.7"/><circle cx="775.5" cy="227.9" r="2.7"/><circle cx="777.5" cy="226.8" r="2.7"/><circle cx="779.5" cy="225.7" r="2.7"/><circle cx="789.4" cy="220.6" r="2.7"/><circle cx="797.3" cy="216.7" r="2.7"/><circle cx="800.8" cy="215.1" r="2.7"/><circle cx="804.2" cy="213.6" r="2.7"/><circle cx="807.7" cy="212.0" r="2.7"/><circle cx="812.7" cy="209.9" r="2.7"/><circle cx="823.6" cy="205.6" r="2.7"/><circle cx="827.6" cy="204.1" r="2.7"/><circle cx="831.5" cy="202.7" r="2.7"/><circle cx="835.5" cy="201.3" r="2.7"/><circle cx="839.5" cy="200.0" r="2.7"/><circle cx="843.2" cy="198.9" r="2.7"/><circle cx="847.2" cy="197.7" r="2.7"/><circle cx="851.1" cy="196.6" r="2.7"/><circle cx="856.2" cy="195.2" r="2.7"/><circle cx="860.4" cy="194.1" r="2.7"/><circle cx="864.7" cy="193.1" r="2.7"/><circle cx="875.7" cy="190.8" r="2.7"/><circle cx="881.7" cy="189.7" r="2.7"/><circle cx="883.4" cy="189.4" r="2.7"/><circle cx="891.9" cy="188.1" r="2.7"/><circle cx="903.3" cy="186.8" r="2.7"/><circle cx="916.3" cy="185.9" r="2.7"/><circle cx="947.6" cy="186.0" r="2.7"/><circle cx="949.0" cy="186.0" r="2.7"/></g>
<g fill="#ff0000" stroke="none"><circle cx="116.6" cy="511.2" r="2.7"/><circle cx="121.2" cy="511.2" r="2.7"/><circle cx="127.2" cy="511.2" r="2.7"/><circle cx="128.7" cy="511.2" r="2.7"/><circle cx="145.4" cy="511.2" r="2.7"/><circle cx="169.5" cy="511.1" r="2.7"/><circle cx="176.5" cy="509.8" r="2.7"/><circle cx="181.9" cy="509.8" r="2.7"/><circle cx="189.4" cy="509.8" r="2.7"/><circle cx="195.5" cy="509.8" r="2.7"/><circle cx="202.2" cy="509.8" r="2.7"/><circle cx="203.0" cy="509.8" r="2.7"/><circle cx="216.6" cy="509.8" r="2.7"/><circle cx="218.6" cy="509.8" r="2.7"/><circle cx="220.2" cy="509.8" r="2.7"/><circle cx="221.3" cy="509.7" r="2.7"/><circle cx="223.1" cy="509.7" r="2.7"/><circle cx="225.4" cy="509.7" r="2.7"/><circle cx="226.2" cy="509.7" r="2.7"/><circle cx="228.7" cy="509.7" r="2.7"/><circle cx="230.4" cy="509.7" r="2.7"/><circle cx="231.8" cy="509.7" r="2.7"/><circle cx="233.3" cy="509.7" r="2.7"/><circle cx="235.0" cy="509.6" r="2.7"/><circle cx="236.7" cy="509.6" r="2.7"/><circle cx="238.5" cy="509.6" r="2.7"/><circle cx="240.3" cy="509.6" r="2.7"/><circle cx="242.1" cy="509.6" r="2.7"/><circle cx="244.2" cy="509.5" r="2.7"/><circle cx="245.7" cy="509.5" r="2.7"/><circle cx="247.2" cy="509.5" r="2.7"/><circle cx="249.3" cy="509.5" r="2.7"/><circle cx="250.2" cy="509.5" r="2.7"/><circle cx="251.9" cy="509.4" r="2.7"/><circle cx="254.0" cy="509.4" r="2.7"/><circle cx="255.1" cy="509.4" r="2.7"/><circle cx="256.8" cy="509.4" r="2.7"/><circle cx="270.5" cy="509.1" r="2.7"/><circle cx="272.2" cy="509.0" r="2.7"/><circle cx="274.3" cy="509.0" r="2.7"/><circle cx="275.7" cy="508.9" r="2.7"/><circle cx="277.3" cy="508.9" r="2.7"/><circle cx="279.0" cy="508.8" r="2.7"/><circle cx="280.4" cy="508.8" r="2.7"/><circle cx="281.9" cy="508.7" r="2.7"/><circle cx="283.8" cy="508.7" r="2.7"/><circle cx="286.0" cy="508.6" r="2.7"/><circle cx="287.2" cy="508.5" r="2.7"/><circle cx="289.1" cy="508.5" r="2.7"/><circle cx="290.4" cy="508.4" r="2.7"/><circle cx="292.9" cy="508.3" r="2.7"/><circle cx="294.0" cy="508.2" r="2.7"/><circle cx="295.8" cy="508.2" r="2.7"/><circle cx="298.1" cy="508.1" r="2.7"/><circle cx="299.4" cy="508.0" r="2.7"/><circle cx="301.4" cy="507.9" r="2.7"/><circle cx="302.9" cy="507.8" r="2.7"/><circle cx="304.7" cy="507.7" r="2.7"/><circle cx="305.8" cy="507.6" r="2.7"/><circle cx="307.9" cy="507.5" r="2.7"/><circle cx="309.6" cy="507.4" r="2.7"/><circle cx="311.7" cy="507.3" r="2.7"/><circle cx="312.9" cy="507.2" r="2.7"/><circle cx="314.8" cy="507.1" r="2.7"/><circle cx="316.0" cy="507.0" r="2.7"/><circle cx="318.0" cy="506.9" r="2.7"/><circle cx="319.6" cy="506.8" r="2.7"/><circle cx="321.2" cy="506.7" r="2.7"/><circle cx="323.5" cy="506.5" r="2.7"/><circle cx="324.8" cy="506.4" r="2.7"/><circle cx="327.1" cy="506.2" r="2.7"/><circle cx="328.4" cy="506.1" r="2.7"/><circle cx="330.1" cy="505.9" r="2.7"/><circle cx="331.8" cy="505.8" r="2.7"/><circle cx="333.6" cy="505.6" r="2.7"/><circle cx="334.8" cy="505.5" r="2.7"/><circle cx="336.7" cy="505.3" r="2.7"/><circle cx="338.2" cy="505.2" r="2.7"/><circle cx="340.1" cy="505.0" r="2.7"/><circle cx="341.5" cy="504.9" r="2.7"/><circle cx="344.1" cy="504.6" r="2.7"/><circle cx="345.0" cy="504.5" r="2.7"/><circle cx="347.2" cy="504.3" r="2.7"/><circle cx="348.5" cy="504.1" r="2.7"/><circle cx="350.8" cy="503.9" r="2.7"/><circle cx="352.3" cy="503.7" r="2.7"/><circle cx="353.4" cy="503.6" r="2.7"/><circle cx="355.8" cy="503.3" r="2.7"/><circle cx="357.6" cy="503.0" r="2.7"/><circle cx="359.3" cy="502.8" r="2.7"/><circle cx="360.7" cy="502.6" r="2.7"/><circle cx="361.9" cy="502.4" r="2.7"/><circle cx="363.7" cy="502.2" r="2.7"/><circle cx="366.1" cy="501.8" r="2.7"/><circle cx="367.5" cy="501.6" r="2.7"/><circle cx="368.8" cy="501.4" r="2.7"/><circle cx="371.2" cy="501.0" r="2.7"/><circle cx="372.6" cy="500.8" r="2.7"/><circle cx="374.3" cy="500.5" r="2.7"/><circle cx="375.8" cy="500.2" r="2.7"/><circle cx="377.5" cy="499.9" r="2.7"/><circle cx="379.0" cy="499.6" r="2.7"/><circle cx="380.5" cy="499.3" r="2.7"/><circle cx="383.1" cy="498.8" r="2.7"/><circle cx="384.4" cy="498.6" r="2.7"/><circle cx="386.1" cy="498.2" r="2.7"/><circle cx="387.6" cy="497.9" r="2.7"/><circle cx="389.8" cy="497.4" r="2.7"/><circle cx="390.7" cy="497.2" r="2.7"/><circle cx="392.8" cy="496.7" r="2.7"/><circle cx="394.1" cy="496.4" r="2.7"/><circle cx="395.9" cy="495.9" r="2.7"/><circle cx="398.5" cy="495.3" r="2.7"/><circle cx="399.9" cy="494.9" r="2.7"/><circle cx="401.3" cy="494.5" r="2.7"/><circle cx="403.1" cy="494.0" r="2.7"/><circle cx="405.2" cy="493.5" r="2.7"/><circle cx="406.3" cy="493.1" r="2.7"/><circle cx="408.3" cy="492.5" r="2.7"/><circle cx="410.1" cy="492.0" r="2.7"/><circle cx="411.5" cy="491.6" r="2.7"/><circle cx="413.3" cy="491.0" r="2.7"/><circle cx="415.3" cy="490.3" r="2.7"/><circle cx="417.1" cy="489.7" r="2.7"/><circle cx="418.1" cy="489.4" r="2.7"/><circle cx="420.5" cy="488.5" r="2.7"/><circle cx="421.3" cy="488.2" r="2.7"/><circle cx="423.8" cy="487.3" r="2.7"/><circle cx="425.5" cy="486.6" r="2.7"/><circle cx="426.5" cy="486.2" r="2.7"/><circle cx="428.5" cy="485.5" r="2.7"/><circle cx="430.6" cy="484.6" r="2.7"/><circle cx="431.5" cy="484.2" r="2.7"/><circle cx="433.8" cy="483.2" r="2.7"/><circle cx="435.7" cy="482.4" r="2.7"/><circle cx="437.1" cy="481.8" r="2.7"/><circle cx="439.0" cy="480.9" r="2.7"/><circle cx="440.2" cy="480.4" r="2.7"/><circle cx="441.9" cy="479.6" r="2.7"/><circle cx="443.8" cy="478.7" r="2.7"/><circle cx="445.3" cy="477.9" r="2.7"/><circle cx="447.1" cy="477.0" r="2.7"/><circle cx="449.4" cy="475.8" r="2.7"/><circle cx="450.8" cy="475.1" r="2.7"/><circle cx="452.2" cy="474.3" r="2.7"/><circle cx="453.9" cy="473.4" r="2.7"/><circle cx="456.3" cy="472.1" r="2.7"/><circle cx="461.3" cy="469.1" r="2.7"/><circle cx="463.1" cy="468.0" r="2.7"/><circle cx="464.1" cy="467.4" r="2.7"/><circle cx="465.5" cy="466.5" r="2.7"/><circle cx="467.2" cy="465.5" r="2.7"/><circle cx="468.5" cy="464.6" r="2.7"/><circle cx="469.8" cy="463.8" r="2.7"/><circle cx="471.0" cy="463.0" r="2.7"/><circle cx="472.8" cy="461.8" r="2.7"/><circle cx="473.8" cy="461.1" r="2.7"/><circle cx="475.6" cy="459.9" r="2.7"/><circle cx="476.4" cy="459.4" r="2.7"/><circle cx="478.0" cy="458.2" r="2.7"/><circle cx="479.5" cy="457.2" r="2.7"/><circle cx="481.3" cy="455.9" r="2.7"/><circle cx="482.1" cy="455.3" r="2.7"/><circle cx="483.9" cy="454.0" r="2.7"/><circle cx="485.2" cy="453.0" r="2.7"/><circle cx="486.7" cy="451.9" r="2.7"/><circle cx="488.0" cy="450.9" r="2.7"/><circle cx="489.7" cy="449.6" r="2.7"/><circle cx="490.6" cy="449.0" r="2.7"/><circle cx="492.0" cy="447.8" r="2.7"/><circle cx="493.3" cy="446.8" r="2.7"/><circle cx="494.5" cy="445.8" r="2.7"/><circle cx="496.1" cy="444.6" r="2.7"/><circle cx="498.0" cy="443.0" r="2.7"/><circle cx="499.4" cy="441.9" r="2.7"/><circle cx="500.2" cy="441.2" r="2.7"/><circle cx="502.0" cy="439.7" r="2.7"/><circle cx="503.3" cy="438.6" r="2.7"/><circle cx="504.8" cy="437.3" r="2.7"/><circle cx="506.2" cy="436.1" r="2.7"/><circle cx="507.3" cy="435.1" r="2.7"/><circle cx="509.3" cy="433.4" r="2.7"/><circle cx="510.3" cy="432.5" r="2.7"/><circle cx="511.8" cy="431.1" r="2.7"/><circle cx="513.2" cy="429.9" r="2.7"/><circle cx="514.2" cy="428.9" r="2.7"/><circle cx="515.5" cy="427.7" r="2.7"/><circle cx="517.2" cy="426.2" r="2.7"/><circle cx="518.9" cy="424.6" r="2.7"/><circle cx="520.4" cy="423.3" r="2.7"/><circle cx="521.7" cy="422.0" r="2.7"/><circle cx="522.6" cy="421.1" r="2.7"/><circle cx="524.6" cy="419.2" r="2.7"/><circle cx="525.9" cy="417.9" r="2.7"/><circle cx="527.4" cy="416.4" r="2.7"/><circle cx="528.5" cy="415.3" r="2.7"/><circle cx="530.2" cy="413.6" r="2.7"/><circle cx="530.9" cy="412.9" r="2.7"/><circle cx="532.3" cy="411.5" r="2.7"/><circle cx="533.7" cy="410.1" r="2.7"/><circle cx="535.3" cy="408.5" r="2.7"/><circle cx="536.7" cy="407.1" r="2.7"/><circle cx="538.1" cy="405.7" r="2.7"/><circle cx="539.8" cy="403.9" r="2.7"/><circle cx="540.7" cy="402.9" r="2.7"/><circle cx="542.6" cy="401.0" r="2.7"/><circle cx="543.6" cy="399.9" r="2.7"/><circle cx="545.4" cy="398.0" r="2.7"/><circle cx="546.3" cy="397.0" r="2.7"/><circle cx="547.9" cy="395.3" r="2.7"/><circle cx="549.9" cy="393.3" r="2.7"/><circle cx="550.9" cy="392.1" r="2.7"/><circle cx="552.5" cy="390.4" r="2.7"/><circle cx="553.8" cy="389.0" r="2.7"/><circle cx="555.2" cy="387.5" r="2.7"/><circle cx="556.3" cy="386.3" r="2.7"/><circle cx="558.0" cy="384.5" r="2.7"/><circle cx="558.9" cy="383.4" r="2.7"/><circle cx="560.9" cy="381.2" r="2.7"/><circle cx="562.5" cy="379.5" r="2.7"/><circle cx="563.8" cy="378.0" r="2.7"/><circle cx="564.5" cy="377.2" r="2.7"/><circle cx="566.2" cy="375.4" r="2.7"/><circle cx="567.6" cy="373.9" r="2.7"/><circle cx="568.8" cy="372.5" r="2.7"/><circle cx="570.6" cy="370.4" r="2.7"/><circle cx="572.1" cy="368.7" r="2.7"/><circle cx="573.2" cy="367.6" r="2.7"/><circle cx="575.0" cy="365.5" r="2.7"/><circle cx="576.3" cy="364.0" r="2.7"/><circle cx="577.2" cy="363.0" r="2.7"/><circle cx="579.1" cy="360.9" r="2.7"/><circle cx="580.6" cy="359.2" r="2.7"/><circle cx="581.5" cy="358.2" r="2.7"/><circle cx="583.2" cy="356.3" r="2.7"/><circle cx="585.6" cy="353.5" r="2.7"/><circle cx="587.4" cy="351.5" r="2.7"/><circle cx="588.8" cy="350.0" r="2.7"/><circle cx="591.0" cy="347.4" r="2.7"/><circle cx="592.8" cy="345.4" r="2.7"/><circle cx="594.8" cy="343.2" r="2.7"/><circle cx="596.5" cy="341.2" r="2.7"/><circle cx="598.0" cy="339.6" r="2.7"/><circle cx="600.1" cy="337.2" r="2.7"/><circle cx="602.0" cy="335.1" r="2.7"/><circle cx="603.8" cy="333.0" r="2.7"/><circle cx="605.0" cy="331.6" r="2.7"/><circle cx="606.7" cy="329.7" r="2.7"/><circle cx="609.0" cy="327.2" r="2.7"/><circle cx="612.3" cy="323.5" r="2.7"/><circle cx="616.2" cy="319.2" r="2.7"/><circle cx="617.7" cy="317.4" r="2.7"/><circle cx="619.5" cy="315.5" r="2.7"/><circle cx="620.6" cy="314.2" r="2.7"/><circle cx="622.1" cy="312.7" r="2.7"/><circle cx="629.8" cy="304.1" r="2.7"/><circle cx="632.1" cy="301.7" r="2.7"/><circle cx="633.6" cy="300.0" r="2.7"/><circle cx="636.0" cy="297.4" r="2.7"/><circle cx="637.8" cy="295.4" r="2.7"/><circle cx="640.5" cy="292.6" r="2.7"/><circle cx="642.7" cy="290.1" r="2.7"/><circle cx="644.4" cy="288.4" r="2.7"/><circle cx="646.5" cy="286.1" r="2.7"/><circle cx="648.7" cy="283.7" r="2.7"/><circle cx="650.5" cy="281.8" r="2.7"/><circle cx="652.6" cy="279.6" r="2.7"/><circle cx="654.8" cy="277.3" r="2.7"/><circle cx="657.1" cy="275.0" r="2.7"/><circle cx="661.6" cy="270.3" r="2.7"/><circle cx="664.0" cy="267.9" r="2.7"/><circle cx="665.9" cy="265.9" r="2.7"/><circle cx="667.7" cy="264.0" r="2.7"/><circle cx="669.6" cy="262.1" r="2.7"/><circle cx="672.4" cy="259.3" r="2.7"/><circle cx="673.8" cy="257.9" r="2.7"/><circle cx="675.9" cy="255.8" r="2.7"/><circle cx="680.6" cy="251.2" r="2.7"/><circle cx="682.3" cy="249.5" r="2.7"/><circle cx="685.2" cy="246.7" r="2.7"/><circle cx="686.7" cy="245.3" r="2.7"/><circle cx="688.8" cy="243.3" r="2.7"/><circle cx="691.4" cy="240.8" r="2.7"/><circle cx="693.3" cy="239.0" r="2.7"/><circle cx="695.0" cy="237.5" r="2.7"/><circle cx="697.3" cy="235.3" r="2.7"/><circle cx="702.0" cy="231.0" r="2.7"/><circle cx="703.2" cy="230.0" r="2.7"/><circle cx="704.4" cy="228.9" r="2.7"/><circle cx="709.0" cy="224.8" r="2.7"/><circle cx="713.9" cy="220.6" r="2.7"/><circle cx="715.7" cy="219.0" r="2.7"/><circle cx="718.3" cy="216.8" r="2.7"/><circle cx="720.0" cy="215.4" r="2.7"/><circle cx="722.9" cy="213.0" r="2.7"/><circle cx="725.3" cy="211.1" r="2.7"/><circle cx="727.6" cy="209.2" r="2.7"/><circle cx="729.8" cy="207.5" r="2.7"/><circle cx="731.8" cy="205.9" r="2.7"/><circle cx="733.8" cy="204.4" r="2.7"/><circle cx="736.5" cy="202.3" r="2.7"/><circle cx="739.1" cy="200.4" r="2.7"/><circle cx="744.6" cy="196.4" r="2.7"/><circle cx="746.7" cy="194.9" r="2.7"/><circle cx="749.2" cy="193.1" r="2.7"/><circle cx="751.7" cy="191.4" r="2.7"/><circle cx="754.2" cy="189.7" r="2.7"/><circle cx="755.7" cy="188.7" r="2.7"/><circle cx="758.1" cy="187.2" r="2.7"/><circle cx="765.5" cy="182.5" r="2.7"/><circle cx="767.5" cy="181.3" r="2.7"/><circle cx="769.5" cy="180.1" r="2.7"/><circle cx="771.5" cy="178.9" r="2.7"/><circle cx="773.5" cy="177.7" r="2.7"/><circle cx="775.5" cy="176.6" r="2.7"/><circle cx="777.5" cy="175.5" r="2.7"/><circle cx="779.5" cy="174.3" r="2.7"/><circle cx="789.4" cy="169.0" r="2.7"/><circle cx="797.3" cy="165.1" r="2.7"/><circle cx="800.8" cy="163.4" r="2.7"/><circle cx="804.2" cy="161.7" r="2.7"/><circle cx="807.7" cy="160.1" r="2.7"/><circle cx="812.7" cy="157.9" r="2.7"/><circle cx="823.6" cy="153.2" r="2.7"/><circle cx="827.6" cy="151.5" r="2.7"/><circle cx="831.5" cy="150.0" r="2.7"/><circle cx="835.5" cy="148.4" r="2.7"/><circle cx="839.5" cy="146.8" r="2.7"/><circle cx="843.2" cy="145.5" r="2.7"/><circle cx="847.2" cy="144.0" r="2.7"/><circle cx="851.1" cy="142.6" r="2.7"/><circle cx="856.2" cy="140.8" r="2.7"/><circle cx="860.4" cy="139.4" r="2.7"/><circle cx="864.7" cy="137.9" r="2.7"/><circle cx="875.7" cy="134.4" r="2.7"/><circle cx="881.7" cy="132.6" r="2.7"/><circle cx="883.4" cy="132.0" r="2.7"/><circle cx="891.9" cy="129.5" r="2.7"/><circle cx="903.3" cy="126.3" r="2.7"/><circle cx="916.3" cy="122.7" r="2.7"/><circle cx="947.6" cy="114.7" r="2.7"/><circle cx="949.0" cy="114.3" r="2.7"/></g>
<rect x="84.7" y="7.8" width="897.3" height="608.2" fill="none" stroke="#111" stroke-width="1.7" stroke-linejoin="round"/>
<g stroke="#111" stroke-width="1.7"><line x1="195.6" y1="616.0" x2="195.6" y2="626.9"/><line x1="364.4" y1="616.0" x2="364.4" y2="626.9"/><line x1="533.3" y1="616.0" x2="533.3" y2="626.9"/><line x1="702.1" y1="616.0" x2="702.1" y2="626.9"/><line x1="871.0" y1="616.0" x2="871.0" y2="626.9"/><line x1="72.4" y1="559.0" x2="84.7" y2="559.0"/><line x1="72.4" y1="465.6" x2="84.7" y2="465.6"/><line x1="72.4" y1="372.1" x2="84.7" y2="372.1"/><line x1="72.4" y1="278.7" x2="84.7" y2="278.7"/><line x1="72.4" y1="185.2" x2="84.7" y2="185.2"/><line x1="72.4" y1="91.8" x2="84.7" y2="91.8"/></g>
<g font-family="Liberation Sans, sans-serif" font-size="17.5" fill="#000" stroke="#000" stroke-width="0.75"><text x="195.0" y="653.5" text-anchor="middle">6</text><text x="363.8" y="653.5" text-anchor="middle">7</text><text x="532.7" y="653.5" text-anchor="middle">8</text><text x="701.5" y="653.5" text-anchor="middle">9</text><text x="870.4" y="653.5" text-anchor="middle">10</text><text transform="translate(59.4 559.0) rotate(-90)" text-anchor="middle" font-size="16.8">0.0</text><text transform="translate(59.4 465.6) rotate(-90)" text-anchor="middle" font-size="16.8">0.2</text><text transform="translate(59.4 372.1) rotate(-90)" text-anchor="middle" font-size="16.8">0.4</text><text transform="translate(59.4 278.7) rotate(-90)" text-anchor="middle" font-size="16.8">0.6</text><text transform="translate(59.4 185.2) rotate(-90)" text-anchor="middle" font-size="16.8">0.8</text><text transform="translate(59.4 91.8) rotate(-90)" text-anchor="middle" font-size="16.8">1.0</text></g>
<text x="534.3" y="697" text-anchor="middle" font-family="Liberation Serif, serif" font-size="27.6" fill="#000">LnNT-proBNP7</text>
<text transform="translate(21.4 337.0) rotate(-90)" text-anchor="middle" font-family="Liberation Serif, serif" font-size="27.9" fill="#000">Late Discharge</text>
</svg>
</body></html>
